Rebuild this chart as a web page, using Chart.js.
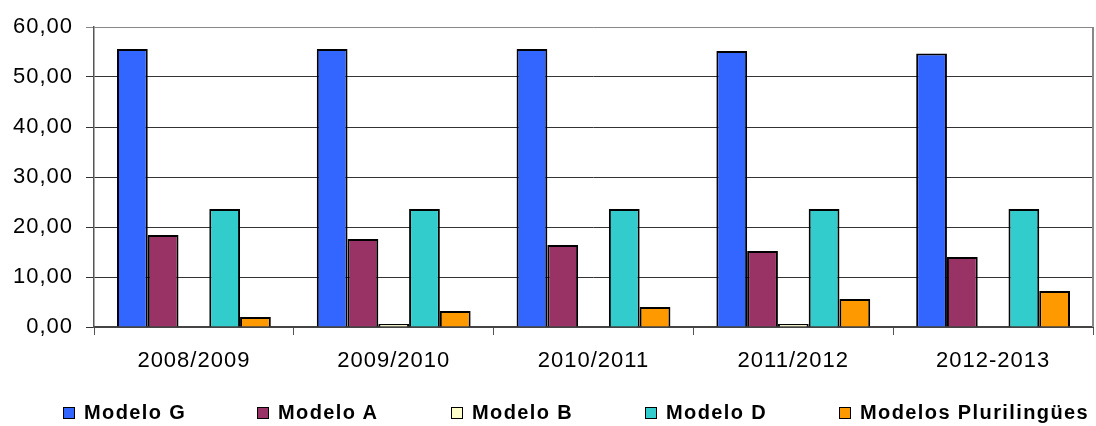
<!DOCTYPE html>
<html lang="es">
<head>
<meta charset="utf-8">
<title>Modelos lingüísticos</title>
<script src="https://cdn.jsdelivr.net/npm/chart.js@4/dist/chart.umd.min.js"></script>
<style>
    body { margin: 0; background: #fff; }
    .bloc { position: relative; width: 1096px; height: 426px; }
    #graphique-modelos { position: absolute; left: 0; top: 0; }
    .legende {
        position: absolute; left: 63px; top: 401px;
        display: flex; font: bold 20px "Liberation Sans", Arial, sans-serif;
        letter-spacing: 1.4px; color: #000;
    }
    .legende div { width: 194px; display: flex; align-items: center; white-space: nowrap; }
    .legende span.case {
        width: 10px; height: 10px; border: 1.5px solid #000;
        margin-right: 9px; flex: none;
    }
</style>
</head>
<body>
<div class="bloc">
    <canvas id="graphique-modelos" width="1096" height="426"></canvas>
    <div class="legende"></div>
</div>
<script>
const annees = ["2008/2009", "2009/2010", "2010/2011", "2011/2012", "2012-2013"];
const modeloG = [55.6, 55.6, 55.6, 55.2, 54.7];
const modeloA = [18.4, 17.6, 16.4, 15.2, 14.0];
const modeloB = [0, 0.6, 0, 0.6, 0];
const modeloD = [23.6, 23.6, 23.6, 23.6, 23.6];
const plurilingues = [2.0, 3.2, 4.0, 5.6, 7.2];
const graduations = [0, 10, 20, 30, 40, 50, 60];

const series = [
    { label: "Modelo G", data: modeloG, couleur: "#3366ff" },
    { label: "Modelo A", data: modeloA, couleur: "#993366" },
    { label: "Modelo B", data: modeloB, couleur: "#ffffcc" },
    { label: "Modelo D", data: modeloD, couleur: "#33cccc" },
    { label: "Modelos Plurilingües", data: plurilingues, couleur: "#ff9900" }
];

// espacement des lettres sur le canvas (mesure + dessin)
const espacement = {
    id: "espacement",
    beforeLayout(chart) { chart.ctx.letterSpacing = "1px"; },
    beforeDraw(chart) { chart.ctx.letterSpacing = "1px"; }
};

// bord droit du cadre en gris
const cadre = {
    id: "cadre",
    beforeDatasetsDraw(chart) {
        const { ctx, chartArea } = chart;
        ctx.save();
        ctx.strokeStyle = "#888";
        ctx.lineWidth = 2;
        ctx.beginPath();
        ctx.moveTo(chartArea.right, chartArea.top);
        ctx.lineTo(chartArea.right, chartArea.bottom);
        ctx.stroke();
        ctx.restore();
    }
};

const data = {
    labels: annees,
    datasets: series.map(s => ({
        label: s.label,
        data: s.data,
        backgroundColor: s.couleur,
        borderColor: "#000",
        borderWidth: 2,
        categoryPercentage: 0.77,
        barPercentage: 1.0
    }))
};

const config = {
    type: "bar",
    data: data,
    options: {
        responsive: false,
        animation: false,
        layout: { padding: { top: 27, right: 3, bottom: 49, left: 0 } },
        font: { family: "'Liberation Sans', Arial, sans-serif", size: 22 },
        plugins: {
            legend: { display: false },
            tooltip: { enabled: false }
        },
        scales: {
            x: {
                afterFit: (scale) => { scale.height = 50; },
                grid: { offset: true, drawOnChartArea: false, tickLength: 8, color: "#555" },
                border: { color: "#444", width: 2 },
                ticks: { color: "#000", padding: 13, font: { size: 22 } }
            },
            y: {
                min: 0,
                max: 60,
                afterFit: (scale) => { scale.width = 94; },
                afterBuildTicks: (scale) => { scale.ticks = graduations.map(v => ({ value: v })); },
                grid: {
                    tickLength: 8,
                    color: (ctx) => ctx.tick && ctx.tick.value === 60 ? "#888" : "#333"
                },
                border: { color: "#555", width: 1.5 },
                ticks: {
                    color: "#000",
                    padding: 13,
                    font: { size: 22 },
                    callback: (v) => v.toFixed(2).replace(".", ",")
                }
            }
        }
    },
    plugins: [espacement, cadre]
};

const graphiqueModelos = new Chart(document.querySelector("#graphique-modelos"), config);

const legende = document.querySelector(".legende");
for (let s of series) {
    const item = document.createElement("div");
    item.innerHTML = `<span class="case" style="background:${s.couleur}"></span>${s.label}`;
    legende.appendChild(item);
}
</script>
</body>
</html>
